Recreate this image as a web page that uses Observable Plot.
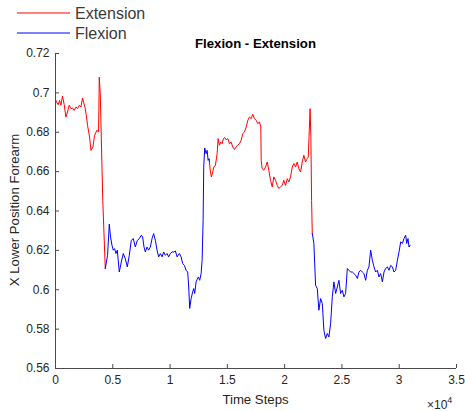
<!DOCTYPE html>
<html>
<head>
<meta charset="utf-8">
<script src="https://cdn.jsdelivr.net/npm/d3@7"></script>
<script src="https://cdn.jsdelivr.net/npm/@observablehq/plot@0.6"></script>
<style>
  body { margin: 0; background: #fff; }
  #wrap { position: relative; width: 465px; height: 411px; font-family: "Liberation Sans", Arial, sans-serif; color: #262626; }
  #wrap svg { position: absolute; left: 0; top: 0; }
  .ov { position: absolute; white-space: nowrap; line-height: 1; }
</style>
</head>
<body>
<div id="wrap"></div>
<script>
// Axis ticks and series styling
const xTicks = [0, 5000, 10000, 15000, 20000, 25000, 30000, 35000];
const yTicks = [0.56, 0.58, 0.6, 0.62, 0.64, 0.66, 0.68, 0.7, 0.72];
const phases = ["Extension", "Flexion"];
const phaseColors = ["#ff0000", "#0000ff"];

// Extension phase 1
const ext1Steps = [35,122,236,350,472,612,760,909,1049,1198,1346,1486,1635,1783,1923,2072,2220,2360,2448,2570,2684,2797,2972,3094,3269,3409,3619,3759,3820,3907,4126,4344];
const ext1Pos = [0.6962,0.6950,0.6940,0.6962,0.6937,0.6984,0.6940,0.6877,0.6903,0.6937,0.6920,0.6923,0.6911,0.6928,0.6920,0.6937,0.6928,0.6974,0.6953,0.6928,0.6886,0.6835,0.6776,0.6708,0.6725,0.6784,0.6810,0.6801,0.7080,0.6996,0.6454,0.6108];

// Flexion phase 1
const flex1Steps = [4344,4545,4694,4808,4930,5044,5157,5280,5393,5568,5743,5918,6093,6267,6442,6617,6792,6967,7142,7317,7491,7605,7727,7841,7989,8129,8278,8426,8566,8715,8863,9003,9152,9300,9440,9589,9738,9877,10026,10175,10314,10463,10612,10813,10961,11101,11250,11398,11538,11626,11713,11835,11975,12063,12150,12272,12360,12473,12587,12710,12797,12884,12937,13024,13147,13234,13322,13409,13435];
const flex1Pos = [0.6108,0.6175,0.6333,0.6268,0.6226,0.6201,0.6209,0.6184,0.6201,0.6090,0.6141,0.6184,0.6158,0.6116,0.6175,0.6251,0.6260,0.6217,0.6251,0.6260,0.6277,0.6268,0.6217,0.6192,0.6217,0.6201,0.6217,0.6260,0.6285,0.6251,0.6201,0.6167,0.6184,0.6167,0.6192,0.6175,0.6184,0.6167,0.6184,0.6192,0.6192,0.6197,0.6167,0.6184,0.6167,0.6133,0.6124,0.6099,0.6090,0.6014,0.5905,0.5955,0.5989,0.6006,0.5981,0.6040,0.6052,0.6065,0.6048,0.6082,0.6150,0.6353,0.6623,0.6720,0.6691,0.6708,0.6657,0.6666,0.6649];

// Extension phase 2
const ext2Steps = [13435,13522,13610,13723,13811,13959,14108,14195,14309,14423,14545,14659,14772,14895,15035,15183,15332,15472,15620,15769,15909,16057,16206,16346,16494,16643,16783,16931,17080,17220,17369,17517,17657,17806,17919,17954,18041,18181,18330,18478,18618,18767,18916,19055,19204,19353,19492,19641,19790,19930,20078,20227,20367,20515,20664,20804,20953,21101,21241,21390,21538,21678,21827,21975,22063,22150,22220,22290,22351,22412];
const ext2Pos = [0.6649,0.6598,0.6573,0.6598,0.6623,0.6632,0.6691,0.6768,0.6734,0.6750,0.6742,0.6768,0.6773,0.6762,0.6768,0.6742,0.6750,0.6725,0.6712,0.6725,0.6734,0.6742,0.6759,0.6793,0.6801,0.6826,0.6860,0.6877,0.6869,0.6891,0.6869,0.6860,0.6844,0.6852,0.6826,0.6657,0.6615,0.6607,0.6623,0.6649,0.6607,0.6556,0.6522,0.6573,0.6556,0.6530,0.6514,0.6522,0.6530,0.6556,0.6530,0.6564,0.6547,0.6573,0.6623,0.6641,0.6623,0.6649,0.6615,0.6598,0.6649,0.6683,0.6649,0.6666,0.6674,0.6810,0.6920,0.6776,0.6454,0.6285];

// Flexion phase 2
const flex2Steps = [22412,22465,22552,22701,22849,22989,23138,23286,23426,23575,23723,23863,24012,24160,24300,24449,24598,24737,24886,25034,25174,25323,25471,25611,25760,25908,26048,26197,26346,26485,26634,26783,26922,27071,27220,27359,27508,27657,27797,27945,28094,28234,28382,28531,28671,28819,28968,29108,29256,29405,29545,29693,29842,29982,30130,30279,30419,30567,30655,30768,30856,30943];
const flex2Pos = [0.6285,0.6268,0.6235,0.6023,0.6006,0.5896,0.5955,0.5930,0.5794,0.5752,0.5778,0.5760,0.5828,0.5964,0.6040,0.5981,0.6014,0.6048,0.5981,0.5997,0.5964,0.5981,0.6108,0.6099,0.6090,0.6090,0.6082,0.6074,0.6057,0.6090,0.6099,0.6090,0.6082,0.6048,0.6099,0.6116,0.6201,0.6150,0.6116,0.6090,0.6099,0.6065,0.6082,0.6040,0.6090,0.6108,0.6116,0.6099,0.6124,0.6116,0.6090,0.6099,0.6150,0.6192,0.6243,0.6235,0.6260,0.6277,0.6235,0.6260,0.6217,0.6226];

const segments = [
  {phase: "Extension", steps: ext1Steps, pos: ext1Pos},
  {phase: "Flexion", steps: flex1Steps, pos: flex1Pos},
  {phase: "Extension", steps: ext2Steps, pos: ext2Pos},
  {phase: "Flexion", steps: flex2Steps, pos: flex2Pos}
];
const rows = segments.flatMap((s, k) => s.steps.map((t, i) => ({seg: k, phase: s.phase, t, v: s.pos[i]})));

const axisColor = "#4a4a4a";
const W = 465, H = 411, mL = 55, mR = 9, mT = 53, mB = 43;
const tickLen = 4;

const chart = Plot.plot({
  width: W,
  height: H,
  marginLeft: mL,
  marginRight: mR,
  marginTop: mT,
  marginBottom: mB,
  style: {fontFamily: "'Liberation Sans', Arial, sans-serif", fontSize: "12px", color: "#262626", background: "transparent"},
  x: {domain: [0, 35000]},
  y: {domain: [0.56, 0.72]},
  color: {domain: phases, range: phaseColors},
  marks: [
    Plot.axisX(xTicks, {tickSize: 0, tickPadding: 7, tickFormat: d => String(d / 1e4), label: null, fontSize: 12}),
    Plot.axisY(yTicks, {tickSize: 0, tickPadding: 6, tickFormat: d => String(+d.toFixed(2)), label: null, fontSize: 12}),
    // inward-pointing tick marks along the bottom and left edges
    Plot.tickX(xTicks, {x: d => d, stroke: axisColor, insetTop: (H - mT - mB) - tickLen}),
    Plot.tickY(yTicks, {y: d => d, stroke: axisColor, insetRight: (W - mL - mR) - tickLen}),
    Plot.ruleY([0.56], {stroke: axisColor}),
    Plot.ruleX([0], {stroke: axisColor}),
    Plot.line(rows, {x: "t", y: "v", z: "seg", stroke: "phase", strokeWidth: 1, curve: "linear"})
  ]
});

const wrap = document.getElementById("wrap");
wrap.appendChild(chart);

function addText(html, css) {
  const d = document.createElement("div");
  d.className = "ov";
  d.innerHTML = html;
  Object.assign(d.style, css);
  wrap.appendChild(d);
  return d;
}

// Title
addText("Flexion - Extension", {left: "55px", width: "401px", textAlign: "center", top: "37px", fontSize: "13.2px", fontWeight: "bold", color: "#000"});
// Axis labels
addText("Time Steps", {left: "55px", width: "401px", textAlign: "center", top: "393px", fontSize: "13.2px"});
addText("X Lower Position Forearm", {left: "15px", top: "210px", fontSize: "13.2px", transform: "translate(-50%, -50%) rotate(-90deg)"});
// Exponent of the x axis
addText("&times;10<sup style='font-size:9px;vertical-align:6px'>4</sup>", {left: "427px", top: "396px", fontSize: "12px"});

// Legend: a line sample per phase with its name
const legend = d3.create("svg")
  .attr("width", 160)
  .attr("height", 45)
  .style("position", "absolute")
  .style("left", "0px")
  .style("top", "0px");
const items = legend.selectAll("g")
  .data(phases)
  .join("g")
  .attr("transform", (d, i) => `translate(0,${13 + i * 20})`);
items.append("line")
  .attr("x1", 17).attr("x2", 70)
  .attr("y1", 0).attr("y2", 0)
  .attr("stroke", (d, i) => phaseColors[i])
  .attr("stroke-width", 1);
items.append("text")
  .attr("x", 75)
  .attr("y", 0.5)
  .attr("dy", "0.36em")
  .attr("fill", "#3a3a3a")
  .style("font-family", "'Liberation Sans', Arial, sans-serif")
  .style("font-size", "16px")
  .text(d => d);
wrap.appendChild(legend.node());
</script>
</body>
</html>
